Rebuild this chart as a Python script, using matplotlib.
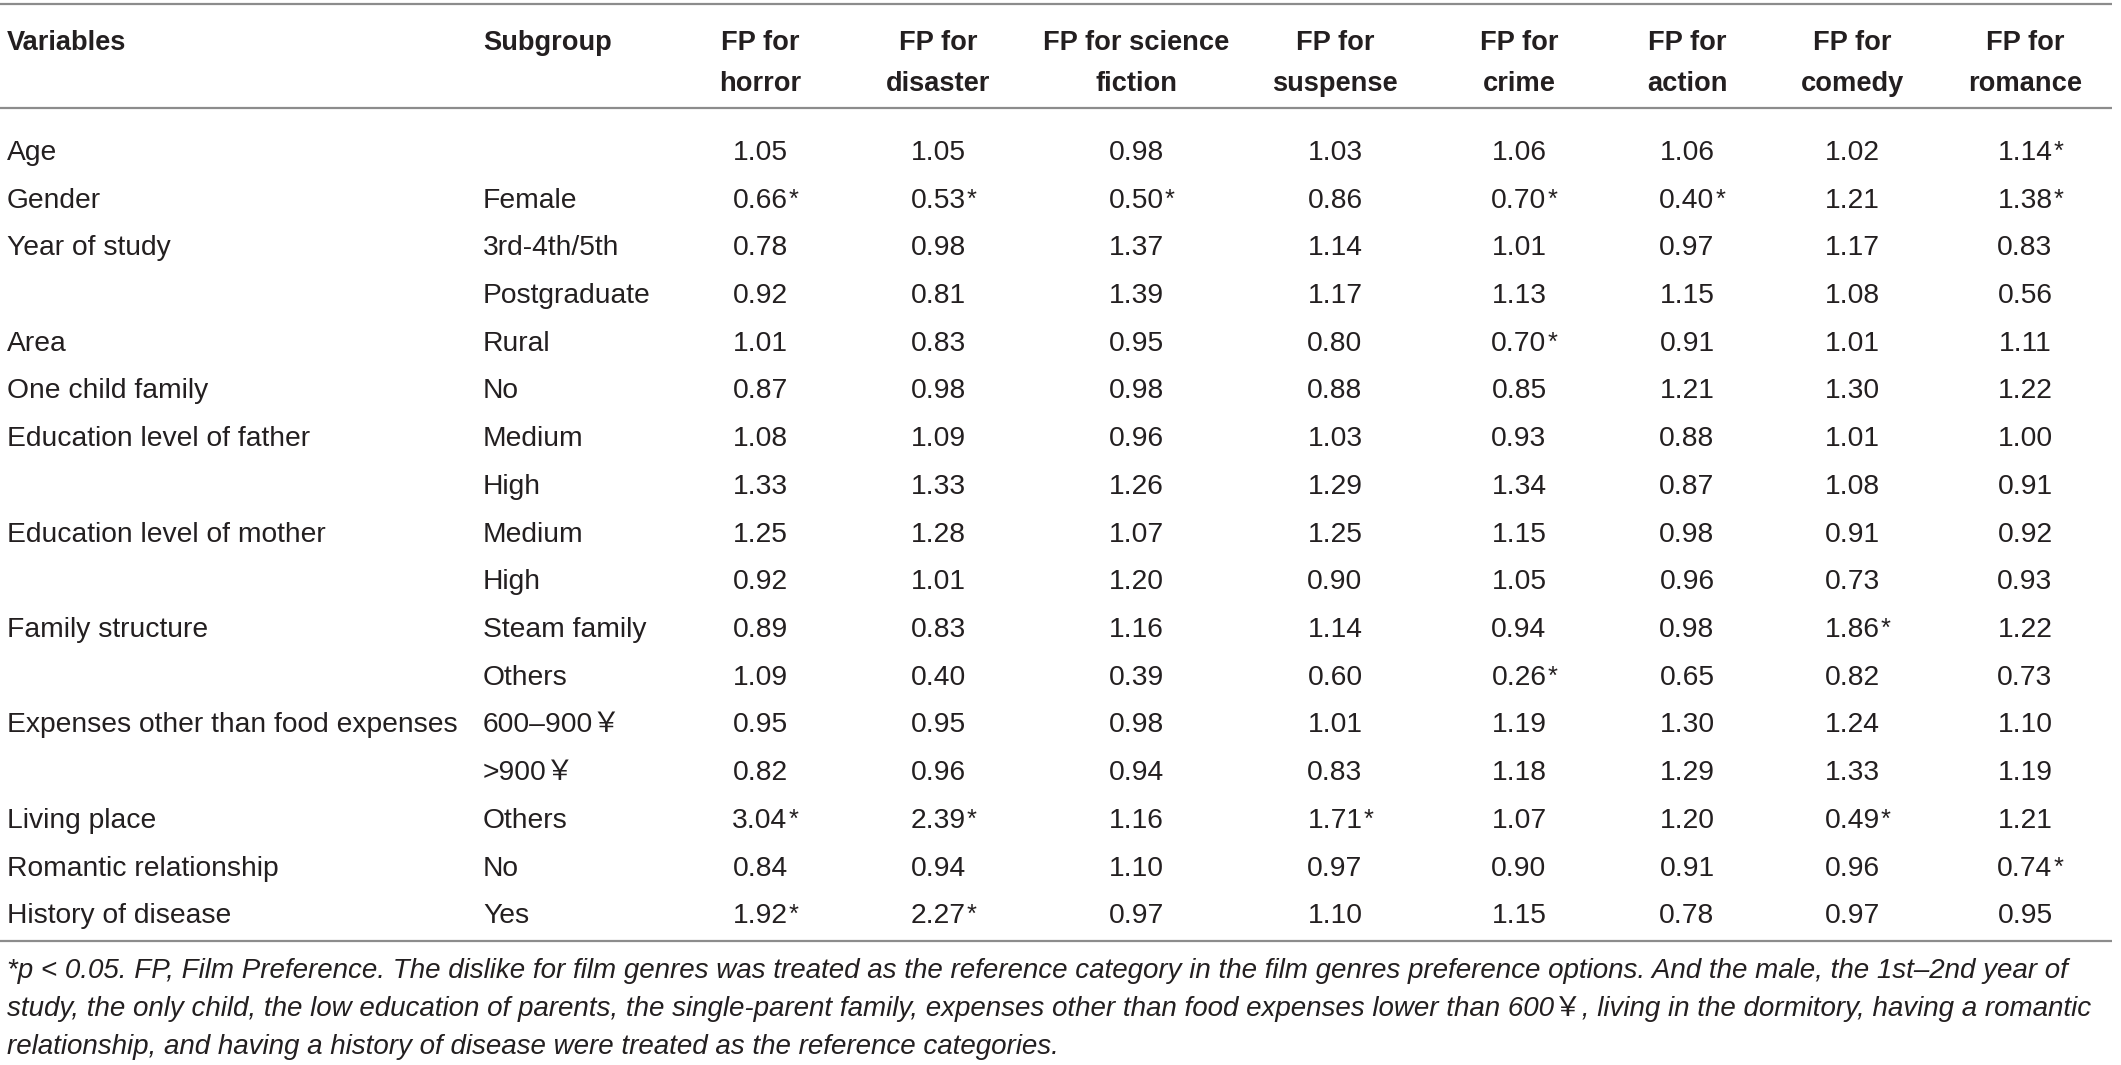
import matplotlib
matplotlib.use("Agg")
import matplotlib.pyplot as plt

# ---------------- data ----------------
variables = ["Age", "Gender", "Year of study", "", "Area", "One child family",
             "Education level of father", "", "Education level of mother", "",
             "Family structure", "", "Expenses other than food expenses", "",
             "Living place", "Romantic relationship", "History of disease"]
subgroups = ["", "Female", "3rd-4th/5th", "Postgraduate", "Rural", "No",
             "Medium", "High", "Medium", "High", "Steam family", "Others",
             "600–900￥", ">900￥", "Others", "No", "Yes"]
col_headers = ["FP for\nhorror", "FP for\ndisaster", "FP for science\nfiction",
               "FP for\nsuspense", "FP for\ncrime", "FP for\naction",
               "FP for\ncomedy", "FP for\nromance"]
horror = ["1.05", "0.66*", "0.78", "0.92", "1.01", "0.87", "1.08", "1.33", "1.25",
          "0.92", "0.89", "1.09", "0.95", "0.82", "3.04*", "0.84", "1.92*"]
disaster = ["1.05", "0.53*", "0.98", "0.81", "0.83", "0.98", "1.09", "1.33", "1.28",
            "1.01", "0.83", "0.40", "0.95", "0.96", "2.39*", "0.94", "2.27*"]
scifi = ["0.98", "0.50*", "1.37", "1.39", "0.95", "0.98", "0.96", "1.26", "1.07",
         "1.20", "1.16", "0.39", "0.98", "0.94", "1.16", "1.10", "0.97"]
suspense = ["1.03", "0.86", "1.14", "1.17", "0.80", "0.88", "1.03", "1.29", "1.25",
            "0.90", "1.14", "0.60", "1.01", "0.83", "1.71*", "0.97", "1.10"]
crime = ["1.06", "0.70*", "1.01", "1.13", "0.70*", "0.85", "0.93", "1.34", "1.15",
         "1.05", "0.94", "0.26*", "1.19", "1.18", "1.07", "0.90", "1.15"]
action = ["1.06", "0.40*", "0.97", "1.15", "0.91", "1.21", "0.88", "0.87", "0.98",
          "0.96", "0.98", "0.65", "1.30", "1.29", "1.20", "0.91", "0.78"]
comedy = ["1.02", "1.21", "1.17", "1.08", "1.01", "1.30", "1.01", "1.08", "0.91",
          "0.73", "1.86*", "0.82", "1.24", "1.33", "0.49*", "0.96", "0.97"]
romance = ["1.14*", "1.38*", "0.83", "0.56", "1.11", "1.22", "1.00", "0.91", "0.92",
           "0.93", "1.22", "0.73", "1.10", "1.19", "1.21", "0.74*", "0.95"]
columns = [horror, disaster, scifi, suspense, crime, action, comedy, romance]
footnote = [
    "*p < 0.05. FP, Film Preference. The dislike for film genres was treated as the reference category in the film genres preference options. And the male, the 1st–2nd year of",
    "study, the only child, the low education of parents, the single-parent family, expenses other than food expenses lower than 600￥, living in the dormitory, having a romantic",
    "relationship, and having a history of disease were treated as the reference categories.",
]

# ---------------- layout ----------------
W, H = 2121, 1065
fig = plt.figure(figsize=(W / 100, H / 100), dpi=100)
ax = fig.add_axes([0, 0, 1, 1])
ax.set_xlim(0, W)
ax.set_ylim(H, 0)
ax.axis("off")

FAM = ["Liberation Sans", "Noto Sans CJK SC", "DejaVu Sans"]
TXT = "#231f20"
LINE = "#8c8c8c"
fs_body = 20.3
fs_head = 19.6

x_var = 7
x_sub = 483
col_x = [760, 938, 1136, 1335, 1519, 1687, 1852, 2025]
y_head1, y_head2 = 43, 84
y_row0, dy = 153, 47.7
y_line_top, y_line_head, y_line_bot = 4, 108, 941

for yl in (y_line_top, y_line_head, y_line_bot):
    ax.plot([0, 2112], [yl, yl], color=LINE, lw=1.6, solid_capstyle="butt")

ax.text(x_var, y_head1, "Variables", ha="left", va="center", fontsize=fs_head,
        fontweight="bold", color=TXT, family=FAM)
ax.text(x_sub, y_head1, "Subgroup", ha="left", va="center", fontsize=fs_head,
        fontweight="bold", color=TXT, family=FAM)
for cx, h in zip(col_x, col_headers):
    l1, l2 = h.split("\n")
    ax.text(cx, y_head1, l1, ha="center", va="center", fontsize=fs_head,
            fontweight="bold", color=TXT, family=FAM)
    ax.text(cx, y_head2, l2, ha="center", va="center", fontsize=fs_head,
            fontweight="bold", color=TXT, family=FAM)

for i, (v, s) in enumerate(zip(variables, subgroups)):
    y = y_row0 + i * dy
    ax.text(x_var, y, v, ha="left", va="center", fontsize=fs_body, color=TXT, family=FAM)
    ax.text(x_sub, y, s, ha="left", va="center", fontsize=fs_body, color=TXT, family=FAM)
    for cx, col in zip(col_x, columns):
        val = col[i]
        sig = val.endswith("*")
        num = val.rstrip("*")
        t = ax.text(cx, y, num, ha="center", va="center", fontsize=fs_body,
                    color=TXT, family=FAM)
        if sig:
            ax.annotate("*", xy=(1.0, 1.0), xycoords=t, xytext=(0.5, 0),
                        textcoords="offset points", ha="left", va="top",
                        fontsize=fs_body * 0.9, color=TXT, family=FAM)

y_foot = [971, 1009, 1047]
for y, line in zip(y_foot, footnote):
    ax.text(x_var, y, line, ha="left", va="center", fontsize=20.0, style="italic",
            color=TXT, family=FAM)

fig.savefig("out.png", dpi=100)
